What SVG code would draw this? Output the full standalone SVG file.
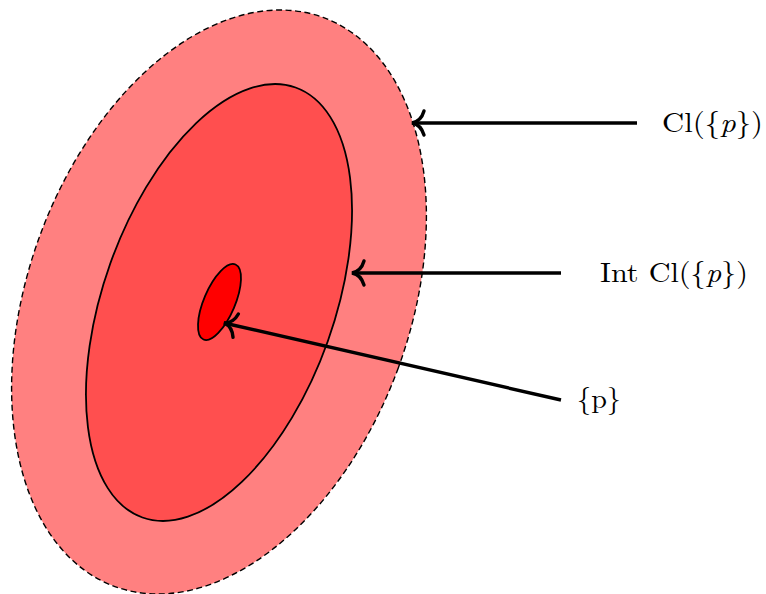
<svg xmlns="http://www.w3.org/2000/svg" width="766" height="594" viewBox="0 0 766 594">
<style>
.lbl{font-family:"Latin Modern Roman","Liberation Serif","DejaVu Serif",serif;font-size:28px;fill:#000}
.it{font-style:italic}
.conn{stroke:#000;stroke-width:3.4;fill:none}
</style>
<defs>
<marker id="to" markerUnits="userSpaceOnUse" markerWidth="30" markerHeight="30" viewBox="-16 -15 20 30" refX="0" refY="0" orient="auto">
<path d="M -12,-12 C -10,-5 -5,-1 0,0 C -5,1 -10,5 -12,12" fill="none" stroke="#000" stroke-width="3.4" stroke-linecap="round"/>
</marker>
</defs>
<rect width="766" height="594" fill="#fff"/>
<g id="closure">
<ellipse cx="219" cy="302" rx="191" ry="303" transform="rotate(20.1 219 302)" fill="#FF8080" stroke="#000" stroke-width="1.4" stroke-dasharray="6 3.5"/>
</g>
<g id="interior">
<ellipse cx="219" cy="302.5" rx="115.5" ry="228.2" transform="rotate(19.6 219 302.5)" fill="#FF4F4F" stroke="#000" stroke-width="1.8"/>
</g>
<g id="point">
<ellipse cx="219.5" cy="302" rx="15.6" ry="40.8" transform="rotate(23.1 219.5 302)" fill="#FF0000" stroke="#000" stroke-width="1.8"/>
</g>
<g id="connectors">
<line class="conn" x1="637" y1="123" x2="412" y2="123" marker-end="url(#to)"/>
<line class="conn" x1="561" y1="273" x2="352" y2="273" marker-end="url(#to)"/>
<line class="conn" x1="561" y1="400" x2="224" y2="323" marker-end="url(#to)"/>
</g>
<g id="label-cl">
<text class="lbl" x="662" y="132" textLength="101" lengthAdjust="spacingAndGlyphs">Cl({<tspan class="it">p</tspan>})</text>
</g>
<g id="label-intcl">
<text class="lbl" x="600" y="282" textLength="148" lengthAdjust="spacingAndGlyphs">Int Cl({<tspan class="it">p</tspan>})</text>
</g>
<g id="label-p">
<text class="lbl" x="577" y="408" textLength="44" lengthAdjust="spacingAndGlyphs">{p}</text>
</g>
</svg>
